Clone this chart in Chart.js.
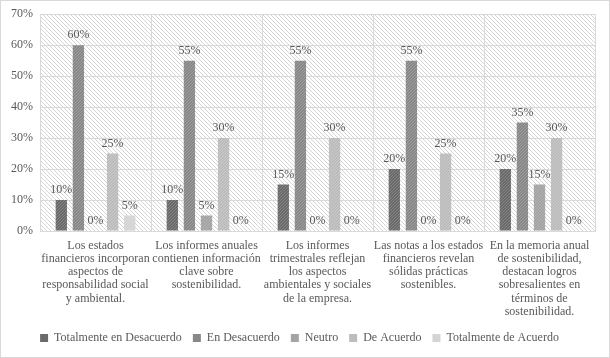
<!DOCTYPE html>
<html>
<head>
<meta charset="utf-8">
<script src="https://cdn.jsdelivr.net/npm/chart.js@4/dist/chart.umd.min.js"></script>
<style>
html,body{margin:0;padding:0;background:#fff;}
#wrap{width:610px;height:358px;position:relative;}
</style>
</head>
<body>
<div id="wrap"><canvas id="c" width="610" height="358"></canvas></div>
<script>
const categories = [
  ["Los estados", "financieros incorporan", "aspectos de", "responsabilidad social", "y ambiental."],
  ["Los informes anuales", "contienen información", "clave sobre", "sostenibilidad."],
  ["Los informes", "trimestrales reflejan", "los aspectos", "ambientales y sociales", "de la empresa."],
  ["Las notas a los estados", "financieros revelan", "sólidas prácticas", "sostenibles."],
  ["En la memoria anual", "de sostenibilidad,", "destacan logros", "sobresalientes en", "términos de", "sostenibilidad."]
];
const seriesNames = ["Totalmente en Desacuerdo", "En Desacuerdo", "Neutro", "De Acuerdo", "Totalmente de Acuerdo"];
const totDesacuerdo = [10, 10, 15, 20, 20];
const enDesacuerdo = [60, 55, 55, 55, 35];
const neutro = [0, 5, 0, 0, 15];
const deAcuerdo = [25, 30, 30, 25, 30];
const totAcuerdo = [5, 0, 0, 0, 0];
const yTicks = [0, 10, 20, 30, 40, 50, 60, 70];

const baseColors = ["#6a6a6a", "#888888", "#a3a3a3", "#bcbcbc", "#d4d4d4"];
const FONT = "'Liberation Serif', 'Times New Roman', serif";
const TXT = "#595959";

function dotPattern(color) {
  const t = document.createElement('canvas');
  t.width = 3; t.height = 3;
  const x = t.getContext('2d');
  x.fillStyle = color; x.fillRect(0, 0, 3, 3);
  x.fillStyle = 'rgba(255,255,255,0.18)';
  x.fillRect(0, 0, 1, 1); x.fillRect(2, 1, 1, 1); x.fillRect(1, 2, 1, 1);
  return document.getElementById('c').getContext('2d').createPattern(t, 'repeat');
}
function hatchPattern() {
  const t = document.createElement('canvas');
  t.width = 4; t.height = 4;
  const x = t.getContext('2d');
  x.fillStyle = '#ffffff'; x.fillRect(0, 0, 4, 4);
  x.fillStyle = '#d4d4d4';
  for (let i = 0; i < 4; i++) x.fillRect(i, i, 1, 1);
  return document.getElementById('c').getContext('2d').createPattern(t, 'repeat');
}

const bgPlugin = {
  id: 'bg',
  beforeDraw(chart) {
    const {ctx, chartArea: a} = chart;
    ctx.save();
    ctx.fillStyle = '#fff';
    ctx.fillRect(0, 0, chart.width, chart.height);
    ctx.fillStyle = hatchPattern();
    ctx.fillRect(a.left, a.top, a.right - a.left, a.bottom - a.top);
    ctx.strokeStyle = '#d9d9d9';
    ctx.lineWidth = 1;
    ctx.strokeRect(0.5, 0.5, chart.width - 1, chart.height - 1);
    ctx.restore();
  }
};
const labelPlugin = {
  id: 'vals',
  afterDatasetsDraw(chart) {
    const ctx = chart.ctx;
    ctx.save();
    ctx.font = "12px " + FONT;
    ctx.fillStyle = TXT;
    ctx.textAlign = 'center';
    ctx.textBaseline = 'bottom';
    chart.data.datasets.forEach((ds, i) => {
      chart.getDatasetMeta(i).data.forEach((bar, j) => {
        ctx.fillText(ds.data[j] + '%', bar.x, bar.y - 4);
      });
    });
    ctx.restore();
  }
};

const seriesData = [totDesacuerdo, enDesacuerdo, neutro, deAcuerdo, totAcuerdo];
new Chart(document.getElementById('c'), {
  type: 'bar',
  data: {
    labels: categories,
    datasets: seriesNames.map((n, i) => ({
      label: n,
      data: seriesData[i],
      backgroundColor: dotPattern(baseColors[i]),
      borderWidth: 0,
      categoryPercentage: 0.77,
      barPercentage: 0.66
    }))
  },
  options: {
    responsive: false,
    animation: false,
    devicePixelRatio: 1,
    layout: {padding: {left: 4, right: 15, top: 14, bottom: 4}},
    plugins: {
      tooltip: {enabled: false},
      legend: {
        position: 'bottom',
        labels: {
          boxWidth: 8, boxHeight: 8, padding: 11,
          color: TXT,
          font: {family: FONT, size: 12},
          generateLabels(chart) {
            return chart.data.datasets.map((d, i) => ({
              text: d.label, fillStyle: baseColors[i], strokeStyle: baseColors[i],
              lineWidth: 0, datasetIndex: i, fontColor: TXT
            }));
          }
        }
      }
    },
    scales: {
      x: {
        afterFit(s) { s.height = 90; },
        grid: {color: '#d9d9d9', offset: true, drawTicks: false},
        border: {color: '#d9d9d9'},
        ticks: {color: TXT, font: {family: FONT, size: 12, lineHeight: 1.1}, maxRotation: 0, autoSkip: false, padding: 8}
      },
      y: {
        min: 0, max: 70,
        afterFit(s) { s.width = 36; },
        afterBuildTicks(s) { s.ticks = yTicks.map(v => ({value: v})); },
        grid: {color: '#d9d9d9', drawTicks: false},
        border: {color: '#d9d9d9'},
        ticks: {color: TXT, font: {family: FONT, size: 12}, padding: 7, callback: v => v + '%'}
      }
    }
  },
  plugins: [bgPlugin, labelPlugin]
});
</script>
</body>
</html>
